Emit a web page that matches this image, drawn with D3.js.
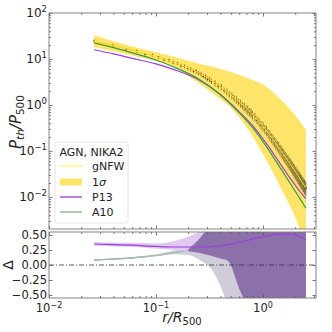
<!DOCTYPE html>
<html><head><meta charset="utf-8">
<script src="https://cdn.jsdelivr.net/npm/d3@7"></script>
<style>
body{margin:0;background:#fff}
svg text{font-family:"DejaVu Sans",sans-serif;fill:#222}
</style></head><body>
<svg id="chart" width="332" height="332"></svg>
<script>
// stacked pressure points (r/R500, P/P500, relative error)
const dataR = [0.0264,0.0396,0.0528,0.066,0.0792,0.0924,0.1056,0.1188,0.132,0.1452,0.1584,0.1716,0.1848,0.198,0.2112,0.2244,0.2376,0.2508,0.264,0.2772,0.2904,0.3036,0.3168,0.33,
  0.356,0.382,0.408,0.434,0.46,0.486,0.512,0.538,0.564,0.59,0.616,0.642,0.668,0.694,0.72,0.746,0.772,0.798,
  0.84,0.88,0.92,0.96,1.0,1.04,1.08,1.12,1.16,1.2,1.24,1.28,1.32,1.36,1.4,1.44,1.48,1.52,1.56,1.6,1.64,1.68,1.72,1.76,1.8,1.84,1.88,1.92,1.96,2.0,2.04,2.08,2.12,2.16,2.2,2.24,2.28,2.32,2.36,2.4,2.44,2.48,2.52];
const dataP = [24.5,19.8,16.4,14.8,12.7,12.1,10.9,9.7,9.3,8.4,8.0,7.2,6.9,6.3,6.0,5.5,5.4,4.95,4.7,4.25,4.1,3.7,3.6,3.28,
  3.0,2.6,2.45,2.1,1.95,1.72,1.6,1.42,1.31,1.17,1.09,0.97,0.92,0.83,0.785,0.71,0.68,0.615,
  0.55,0.47,0.43,0.37,0.345,0.30,0.28,0.24,0.222,0.193,0.18,0.158,0.147,0.13,0.122,0.108,0.101,0.090,0.085,0.076,0.0715,0.064,0.061,0.055,0.052,0.047,0.0445,0.0405,0.0385,0.035,0.0333,0.0305,0.029,0.0268,0.0256,0.0236,0.0225,0.0208,0.0199,0.0185,0.0177,0.0165,0.0157];
const dataErr = [0.1,0.08,0.07,0.08,0.06,0.08,0.07,0.08,0.07,0.09,0.08,0.09,0.1,0.09,0.11,0.1,0.12,0.11,0.12,0.11,0.13,0.12,0.14,0.13,
  0.15,0.13,0.16,0.14,0.17,0.15,0.18,0.16,0.19,0.17,0.2,0.18,0.21,0.19,0.22,0.2,0.23,0.21,
  0.22,0.2,0.23,0.21,0.24,0.22,0.25,0.23,0.26,0.24,0.27,0.25,0.28,0.26,0.28,
  0.26,0.29,0.27,0.3,0.28,0.3,0.28,0.31,0.29,0.32,0.3,0.32,0.3,0.33,0.31,0.33,0.31,0.34,0.32,0.34,0.32,0.35,0.33,0.35,0.33,0.35,0.34,0.35];

// best-fit gNFW and its 1 sigma band
const gnfwR = [0.026,0.0501,0.1,0.158,0.251,0.398,0.525,0.794,1.07,1.41,1.78,2.51];
const gnfwP = [24.6,17.2,11.3,7.94,5.01,2.51,1.51,0.631,0.282,0.117,0.0537,0.0158];
const bandR = [0.0264,0.05,0.1,0.124,0.25,0.36,0.525,0.75,1.07,1.5,2.0,2.52];
const bandHi = [33,21,14,12.3,8.0,6.5,5.0,3.7,2.5,1.25,0.6,0.29];
const bandLo = [18.2,13.2,9.0,8.0,3.0,1.6,0.78,0.26,0.064,0.0142,0.0036,0.0008];

// universal profiles
const modelR = [0.0264,0.04,0.06,0.1,0.15,0.25,0.4,0.6,0.8,1.07,1.4,1.8,2.2,2.52];
const p13P = [15.9,12.9,10.3,7.8,5.8,3.53,1.69,0.707,0.353,0.147,0.0593,0.0252,0.0134,0.0091];
const a10P = [22.4,17.6,13.6,9.5,6.54,3.68,1.67,0.673,0.322,0.127,0.0484,0.0195,0.0094,0.00564];
const p13Delta = [0.35,0.34,0.33,0.31,0.30,0.30,0.32,0.38,0.43,0.48,0.51,0.51,0.47,0.42];
const a10Delta = [0.08,0.10,0.12,0.16,0.21,0.27,0.33,0.41,0.48,0.55,0.60,0.62,0.63,0.64];

// residual bands
const deltaR = [0.0264,0.04,0.06,0.1,0.15,0.2,0.258,0.333,0.4,0.441,0.461,0.5,0.548,0.6,0.65,0.7,0.8,1.07,1.4,1.8,2.2,2.52];
const a10Lo = [0.07,0.09,0.11,0.145,0.18,0.17,0.08,-0.08,-0.35,-0.55,-0.68,-0.9,-1,-1,-1,-1,-1,-1,-1,-1,-1,-1];
const a10Hi = [0.09,0.11,0.13,0.175,0.24,0.26,0.45,0.7,0.9,1,1,1,1,1,1,1,1,1,1,1,1,1];
const p13Lo = [0.32,0.31,0.30,0.27,0.25,0.23,0.20,0.15,0.11,0.09,0.08,0.0,-0.2,-0.4,-0.55,-0.9,-1,-1,-1,-1,-1,-1];
const p13Hi = [0.38,0.375,0.37,0.36,0.40,0.47,0.56,0.7,0.85,0.95,1,1,1,1,1,1,1,1,1,1,1,1];

const yMajor = [1e-2,1e-1,1,10,100];
const yExp = ["−2","−1","0","1","2"];
const xMajor = [0.01,0.1,1];
const xExp = ["−2","−1","0"];
const dTicks = [0.5,0.25,0,-0.25,-0.5];
const dLabels = ["0.50","0.25","0.00","−0.25","−0.50"];

const svg = d3.select("#chart");
const L = 49, R = 316, T1 = 13, B1 = 229, T2 = 232, B2 = 298;

const x = d3.scaleLog().domain([0.01, 3.13]).range([L, R]);
const y = d3.scaleLog().domain([0.002, 100]).range([B1, T1]);
const yd = d3.scaleLinear().domain([-0.55, 0.55]).range([B2, T2]);

const defs = svg.append("defs");
defs.append("clipPath").attr("id","c1").append("rect").attr("x",L).attr("y",T1).attr("width",R-L).attr("height",B1-T1);
defs.append("clipPath").attr("id","c2").append("rect").attr("x",L).attr("y",T2).attr("width",R-L).attr("height",B2-T2);

const yellow = "#ffe46a", purple = "#9b3fd8", green = "#3a9a3a";

// ---- top panel
const topG = svg.append("g").attr("clip-path","url(#c1)");

topG.append("path")
  .datum(bandR.map((r,i) => [r, bandLo[i], bandHi[i]]))
  .attr("fill", yellow)
  .attr("d", d3.area().x(d => x(d[0])).y0(d => y(d[1])).y1(d => y(d[2])).curve(d3.curveMonotoneX));

const pts = dataR.map((r,i) => ({r:r, p:dataP[i], e:dataErr[i]}));
topG.append("g").selectAll("line").data(pts).enter().append("line")
  .attr("x1", d => x(d.r)).attr("x2", d => x(d.r))
  .attr("y1", d => y(d.p*(1-d.e))).attr("y2", d => y(d.p*(1+d.e)))
  .attr("stroke","#1a1a1a").attr("stroke-opacity",0.6).attr("stroke-width",0.8);
topG.append("g").selectAll("circle").data(pts).enter().append("circle")
  .attr("cx", d => x(d.r)).attr("cy", d => y(d.p)).attr("r",0.9).attr("fill","#111");

const line = d3.line().x(d => x(d[0])).y(d => y(d[1])).curve(d3.curveMonotoneX);
topG.append("path").datum(modelR.map((r,i) => [r, p13P[i]])).attr("d", line)
  .attr("fill","none").attr("stroke",purple).attr("stroke-width",1.2);
topG.append("path").datum(modelR.map((r,i) => [r, a10P[i]])).attr("d", line)
  .attr("fill","none").attr("stroke",green).attr("stroke-width",1.2);
topG.append("path").datum(gnfwR.map((r,i) => [r, gnfwP[i]])).attr("d", line)
  .attr("fill","none").attr("stroke","#ffd92a").attr("stroke-width",1.3);

// ---- bottom panel
const botG = svg.append("g").attr("clip-path","url(#c2)");
const lineD = d3.line().x(d => x(d[0])).y(d => yd(d[1])).curve(d3.curveMonotoneX);
const areaD = d3.area().x(d => x(d[0])).y0(d => yd(d[1])).y1(d => yd(d[2])).curve(d3.curveMonotoneX);

botG.append("path").datum(modelR.map((r,i) => [r, a10Delta[i]])).attr("d", lineD)
  .attr("fill","none").attr("stroke",green).attr("stroke-width",1.2);
botG.append("path").datum(deltaR.map((r,i) => [r, a10Lo[i], a10Hi[i]])).attr("d", areaD)
  .attr("fill","#c4bfcf").attr("fill-opacity",0.8);
botG.append("path").datum(deltaR.map((r,i) => [r, p13Lo[i], p13Hi[i]])).attr("d", areaD)
  .attr("fill","#dcc3ef").attr("fill-opacity",0.9);
// overlap of the two bands
const overlap = deltaR.map((r,i) => [r, Math.max(a10Lo[i], p13Lo[i]), Math.min(a10Hi[i], p13Hi[i])])
  .filter(d => d[2] > d[1]);
botG.append("path").datum(overlap).attr("d", areaD).attr("fill","#8b70a9");
botG.append("path").datum(modelR.map((r,i) => [r, p13Delta[i]])).attr("d", lineD)
  .attr("fill","none").attr("stroke",purple).attr("stroke-width",1.2);

svg.append("line").attr("x1",L).attr("x2",R).attr("y1",yd(0)).attr("y2",yd(0))
  .attr("stroke","#333").attr("stroke-width",0.8).attr("stroke-dasharray","5,2,1,2");

// ---- axes, ticks inward on all sides
function logMinor(lo, hi) {
  const v = [];
  for (let e = Math.floor(Math.log10(lo)); e <= Math.ceil(Math.log10(hi)); e++)
    for (let k = 2; k < 10; k++) { const t = k*Math.pow(10,e); if (t > lo && t < hi) v.push(t); }
  return v;
}
function ticks(axisFn, scale, vals, size, tr) {
  const g = svg.append("g").attr("transform", tr)
    .call(axisFn(scale).tickValues(vals).tickSize(-size).tickFormat(""));
  g.select(".domain").remove();
  g.selectAll("line").attr("stroke","#555").attr("stroke-width",0.8);
}
const xMinor = logMinor(0.01, 3.13), yMinor = logMinor(0.002, 100);
[[B1, T1], [B2, T2]].forEach(([b, t]) => {
  ticks(d3.axisBottom, x, xMajor, 3.5, `translate(0,${b})`);
  ticks(d3.axisBottom, x, xMinor, 2, `translate(0,${b})`);
  ticks(d3.axisTop, x, xMajor, 3.5, `translate(0,${t})`);
  ticks(d3.axisTop, x, xMinor, 2, `translate(0,${t})`);
});
ticks(d3.axisLeft, y, yMajor, 3.5, `translate(${L},0)`);
ticks(d3.axisLeft, y, yMinor, 2, `translate(${L},0)`);
ticks(d3.axisRight, y, yMajor, 3.5, `translate(${R},0)`);
ticks(d3.axisRight, y, yMinor, 2, `translate(${R},0)`);
ticks(d3.axisLeft, yd, dTicks, 3.5, `translate(${L},0)`);
ticks(d3.axisRight, yd, dTicks, 3.5, `translate(${R},0)`);

svg.append("rect").attr("x",L).attr("y",T1).attr("width",R-L).attr("height",B1-T1)
  .attr("fill","none").attr("stroke","#777").attr("stroke-width",0.9);
svg.append("rect").attr("x",L).attr("y",T2).attr("width",R-L).attr("height",B2-T2)
  .attr("fill","none").attr("stroke","#777").attr("stroke-width",0.9);

// tick labels
yMajor.forEach((v,i) => {
  const t = svg.append("text").attr("x", L-2).attr("y", y(v)+4).attr("text-anchor","end").attr("font-size",12);
  t.append("tspan").text("10");
  t.append("tspan").attr("font-size",8.5).attr("dy",-5).text(yExp[i]);
});
xMajor.forEach((v,i) => {
  const t = svg.append("text").attr("x", x(v)).attr("y", 312).attr("text-anchor","middle").attr("font-size",11.5);
  t.append("tspan").text("10");
  t.append("tspan").attr("font-size",8).attr("dy",-4.5).text(xExp[i]);
});
dTicks.forEach((v,i) => {
  svg.append("text").attr("x", L-2).attr("y", yd(v)+3.5).attr("text-anchor","end").attr("font-size",11.5).text(dLabels[i]);
});

// axis titles
const yt = svg.append("text").attr("transform","translate(21,122) rotate(-90)").attr("text-anchor","middle").attr("font-size",15);
yt.append("tspan").attr("font-style","italic").text("P");
yt.append("tspan").attr("font-style","italic").attr("font-size",10.5).attr("dy",3).text("th");
yt.append("tspan").attr("font-style","italic").attr("dy",-3).text("/P");
yt.append("tspan").attr("font-size",10.5).attr("dy",3).text("500");
svg.append("text").attr("transform","translate(13,265) rotate(-90)").attr("text-anchor","middle").attr("font-size",14).text("Δ");
const xt = svg.append("text").attr("x",182).attr("y",322).attr("text-anchor","middle").attr("font-size",14);
xt.append("tspan").attr("font-style","italic").text("r/R");
xt.append("tspan").attr("font-size",10).attr("dy",3).text("500");

// legend
const lg = svg.append("g");
lg.append("rect").attr("x",55).attr("y",142).attr("width",73).attr("height",81).attr("rx",2)
  .attr("fill","#fff").attr("fill-opacity",0.85).attr("stroke","#ddd").attr("stroke-width",0.8);
lg.append("text").attr("x",91.5).attr("y",155.5).attr("text-anchor","middle").attr("font-size",11).text("AGN, NIKA2");
const entries = [
  {label:"gNFW", kind:"line", color:"#fff27a", y:166},
  {label:"1σ", kind:"patch", color:yellow, y:182},
  {label:"P13", kind:"line", color:"#a855e0", y:197},
  {label:"A10", kind:"line", color:"#8cc08c", y:212}
];
entries.forEach(e => {
  if (e.kind === "line")
    lg.append("line").attr("x1",60).attr("x2",82).attr("y1",e.y).attr("y2",e.y).attr("stroke",e.color).attr("stroke-width",1.5);
  else
    lg.append("rect").attr("x",60).attr("y",e.y-3.5).attr("width",22).attr("height",7).attr("fill",e.color);
  const t = lg.append("text").attr("x",92).attr("y",e.y+4).attr("font-size",11);
  if (e.label === "1σ") { t.append("tspan").text("1"); t.append("tspan").attr("font-style","italic").text("σ"); }
  else t.text(e.label);
});
</script>
</body></html>
